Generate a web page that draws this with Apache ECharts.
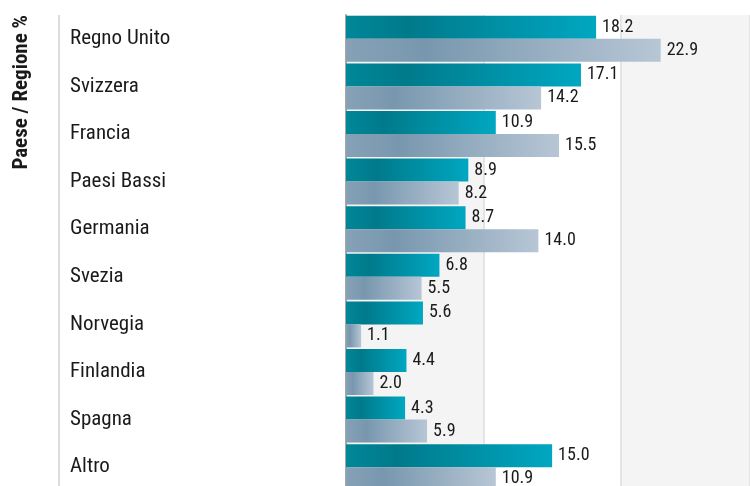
<!DOCTYPE html>
<html>
<head>
<meta charset="utf-8">
<script src="https://cdn.jsdelivr.net/npm/echarts@6/dist/echarts.min.js"></script>
<style>
  html, body { margin: 0; padding: 0; background: #fff; }
  #main { width: 750px; height: 486px; }
</style>
</head>
<body>
<div id="main"></div>
<script>
// dati
var paesi = ['Regno Unito', 'Svizzera', 'Francia', 'Paesi Bassi', 'Germania',
             'Svezia', 'Norvegia', 'Finlandia', 'Spagna', 'Altro'];
var serieA = [18.2, 17.1, 10.9, 8.9, 8.7, 6.8, 5.6, 4.4, 4.3, 15.0];
var serieB = [22.9, 14.2, 15.5, 8.2, 14.0, 5.5, 1.1, 2.0, 5.9, 10.9];
var titoloAsse = 'Paese / Regione %';

var FONT = '"Roboto Condensed", "Liberation Sans Narrow", "DejaVu Sans Condensed", Roboto, sans-serif';

function sfumatura(stops) { // gradiente orizzontale
    return new echarts.graphic.LinearGradient(0, 0, 1, 0, stops);
}

var myChart = echarts.init(document.getElementById('main'));
var valueLabel = {
    show: true,
    position: 'right',
    distance: 6,
    color: '#1a1a1a',
    fontFamily: FONT,
    fontSize: 18,
    padding: [3, 0, 0, 0],
    formatter: function (p) { return p.value.toFixed(1); }
};

var option = {
    animation: false,
    grid: { left: 346, right: 0, top: 15, bottom: -5, containLabel: false, outerBoundsMode: 'none' },
    xAxis: {
        type: 'value',
        min: 0,
        max: 29.4,
        interval: 10,
        axisLabel: { show: false },
        axisTick: { show: false },
        axisLine: { show: false },
        splitLine: { show: true, lineStyle: { color: '#e4e4e4', width: 2 } },
        splitArea: { show: true, areaStyle: { color: ['#f4f4f4', '#ffffff'] } }
    },
    yAxis: {
        type: 'category',
        inverse: true,
        data: paesi,
        axisTick: { show: false },
        axisLine: { show: true, lineStyle: { color: '#a8a8a8', width: 2 } },
        axisLabel: {
            align: 'left',
            margin: 276,
            padding: [5, 0, 0, 0],
            color: '#1a1a1a',
            fontFamily: FONT,
            fontSize: 21
        }
    },
    graphic: [
        {
            type: 'line',
            shape: { x1: 59, y1: 15, x2: 59, y2: 486 },
            style: { stroke: '#dcdcdc', lineWidth: 2 }
        },
        {
            type: 'text',
            x: 22,
            y: 15,
            rotation: Math.PI / 2,
            style: {
                text: titoloAsse,
                align: 'right',
                verticalAlign: 'middle',
                fill: '#1a1a1a',
                font: 'bold 21px ' + FONT
            }
        }
    ],
    series: [
        {
            type: 'bar',
            data: serieA,
            barWidth: 23,
            barGap: '0%',
            itemStyle: { color: sfumatura([
                { offset: 0, color: '#008798' },
                { offset: 0.25, color: '#007a8b' },
                { offset: 1, color: '#00a7c1' }
            ]) },
            label: valueLabel
        },
        {
            type: 'bar',
            data: serieB,
            barWidth: 23,
            itemStyle: { color: sfumatura([
                { offset: 0, color: '#86a1b6' },
                { offset: 0.25, color: '#7897ae' },
                { offset: 1, color: '#b7c6d5' }
            ]) },
            label: valueLabel
        }
    ]
};
myChart.setOption(option);
</script>
</body>
</html>
